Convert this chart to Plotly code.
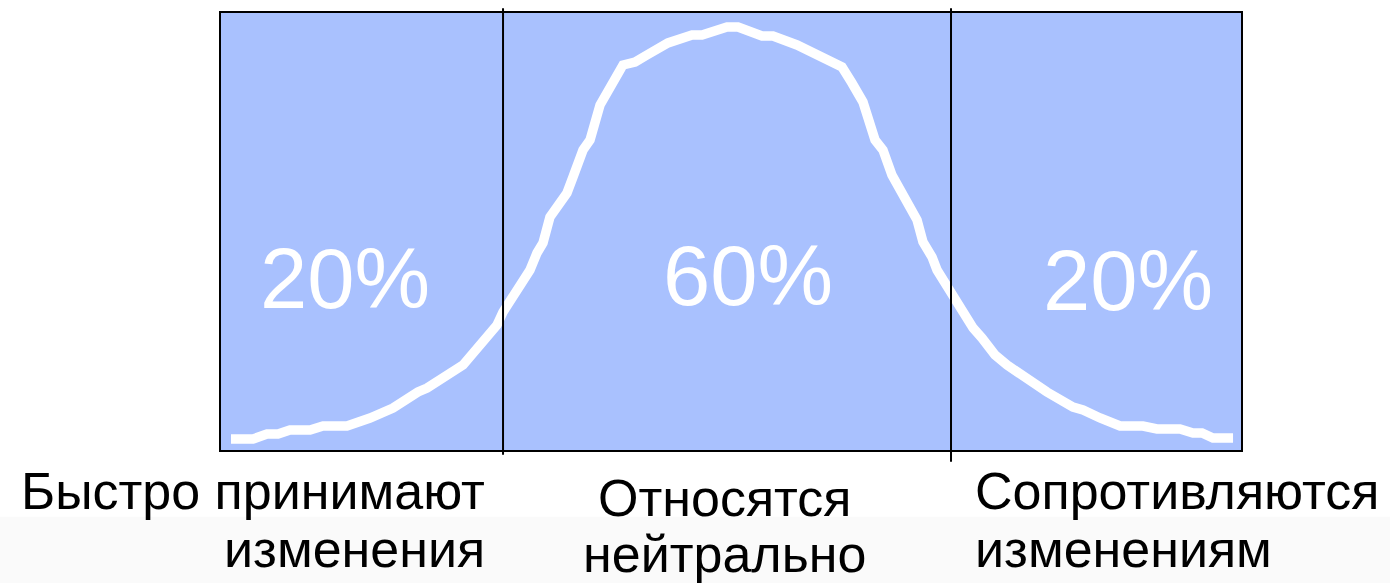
import plotly.graph_objects as go

# Curve (position 0..100 across the box, relative frequency 0..100)
curve_x = [0.98, 3.14, 4.51, 5.59, 6.76, 8.73, 10.0, 12.35, 14.61, 15.88,
           16.86, 19.31, 20.20, 23.73, 24.71, 25.69, 27.06, 27.65, 28.82, 30.29,
           30.98, 31.57, 32.25, 33.92, 34.51, 35.49, 36.18, 37.16, 39.41, 40.59,
           41.76, 42.84, 43.82, 46.18, 47.16, 49.61, 50.69, 53.04, 54.12, 56.47,
           57.75, 58.73, 60.00, 60.88, 61.86, 62.94, 64.12, 64.90, 65.78, 66.57,
           67.06, 68.24, 68.82, 69.71, 70.20, 71.47, 73.73, 74.61, 75.88, 77.06,
           80.10, 80.98, 83.53, 84.51, 86.18, 88.14, 90.39, 91.76, 94.02, 95.29,
           96.18, 97.25, 99.22]
curve_y = [2.52, 2.52, 3.66, 3.66, 4.58, 4.58, 5.49, 5.49, 7.32, 8.70,
           9.61, 13.27, 14.19, 19.45, 22.20, 25.40, 28.60, 31.58, 35.93, 41.19,
           45.08, 47.37, 53.32, 58.81, 62.47, 68.65, 70.94, 78.95, 88.10, 88.79,
           90.39, 91.53, 93.14, 94.97, 94.97, 96.80, 96.80, 94.74, 94.74, 92.68,
           91.08, 90.16, 88.56, 87.64, 83.98, 79.63, 70.94, 68.65, 62.93, 59.50,
           56.75, 52.63, 47.60, 44.16, 41.19, 36.16, 27.92, 25.63, 21.74, 19.45,
           14.19, 13.27, 9.84, 9.15, 7.32, 5.49, 5.49, 4.81, 4.81, 3.89,
           3.89, 2.75, 2.75]
assert len(curve_x) == len(curve_y)

# Segment boundaries and labels
boundaries = [27.65, 71.57]
pct_labels = ["20%", "60%", "20%"]
pct_x = [12.2, 51.7, 88.9]
pct_y = [39.2, 40.0, 38.7]
group_line1 = ["Быстро принимают", "Относятся", "Сопротивляются"]
group_line2 = ["изменения", "нейтрально", "изменениям"]

FONT = "Liberation Sans, Arial, sans-serif"
fig = go.Figure()
fig.add_trace(go.Scatter(x=curve_x, y=curve_y, mode="lines",
                         line=dict(color="white", width=9.5),
                         hoverinfo="skip", showlegend=False))

for t, xx, yy in zip(pct_labels, pct_x, pct_y):
    fig.add_annotation(x=xx, y=yy, text=t, showarrow=False,
                       xanchor="center", yanchor="middle",
                       font=dict(family=FONT, size=85, color="white"))

# bottom grey band
fig.add_shape(type="rect", xref="paper", yref="paper",
              x0=-0.3, x1=1.3, y0=-0.153, y1=-0.4,
              fillcolor="#fafafa", line=dict(width=0), layer="below")

# divider lines
fig.add_shape(type="line", xref="x", yref="paper", x0=boundaries[0], x1=boundaries[0],
              y0=-0.011, y1=1.011, line=dict(color="black", width=2))
fig.add_shape(type="line", xref="x", yref="paper", x0=boundaries[1], x1=boundaries[1],
              y0=-0.027, y1=1.011, line=dict(color="black", width=2))

lab_x = [(0.2608, "right"), (0.494, "center"), (0.737, "left")]
lab_y1 = [-0.0938, -0.1098, -0.0938]
lab_y2 = [-0.2265, -0.2370, -0.2265]
for i in range(3):
    px, xa = lab_x[i]
    fig.add_annotation(x=px, y=lab_y1[i], xref="paper", yref="paper", text=group_line1[i],
                       showarrow=False, xanchor=xa, yanchor="middle",
                       font=dict(family=FONT, size=52, color="black"))
    fig.add_annotation(x=px, y=lab_y2[i], xref="paper", yref="paper", text=group_line2[i],
                       showarrow=False, xanchor=xa, yanchor="middle",
                       font=dict(family=FONT, size=52, color="black"))

fig.update_xaxes(range=[0, 100], showgrid=False, zeroline=False, showticklabels=False,
                 ticks="", showline=True, mirror=True, linecolor="black", linewidth=2)
fig.update_yaxes(range=[0, 100], showgrid=False, zeroline=False, showticklabels=False,
                 ticks="", showline=True, mirror=True, linecolor="black", linewidth=2)
fig.update_layout(width=1390, height=583, margin=dict(l=221, r=149, t=13, b=133),
                  plot_bgcolor="#a9c1fe", paper_bgcolor="white", showlegend=False)
fig.write_html("out.html")
